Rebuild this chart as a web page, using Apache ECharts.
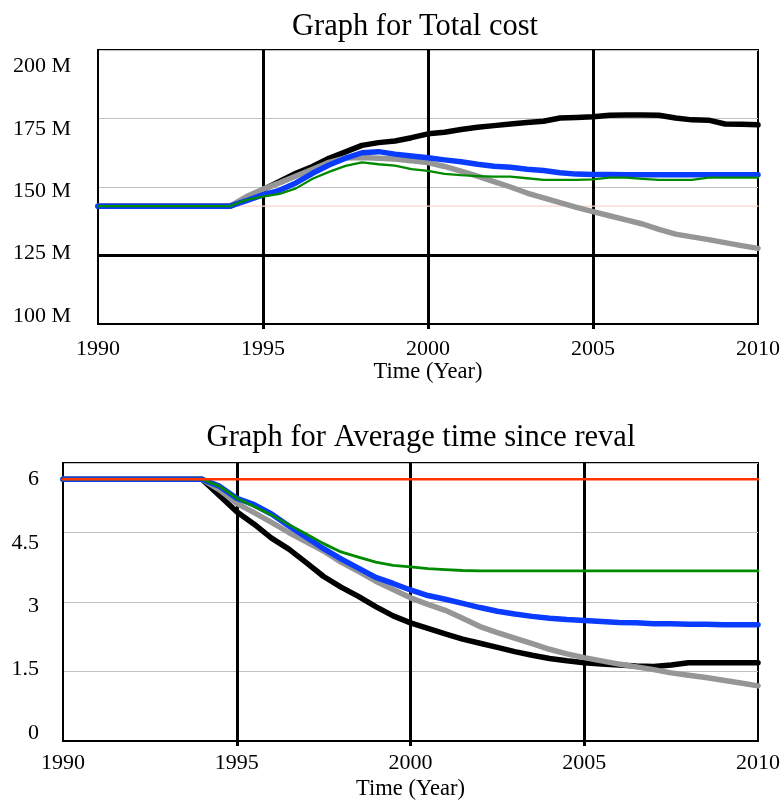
<!DOCTYPE html>
<html><head><meta charset="utf-8">
<script src="https://cdn.jsdelivr.net/npm/echarts@6/dist/echarts.min.js"></script>
<style>html,body{margin:0;padding:0;background:#fff}#c{width:784px;height:804px}</style>
</head><body><div id="c"></div>
<script>
// ---- data ----
const years = [1990, 1994, 1994.5, 1995, 1995.5, 1996, 1996.5, 1997, 1997.5, 1998, 1998.5, 1999, 1999.5,
  2000, 2000.5, 2001, 2001.5, 2002, 2002.5, 2003, 2003.5, 2004, 2004.5, 2005, 2005.5, 2006, 2006.5,
  2007, 2007.5, 2008, 2008.5, 2009, 2009.5, 2010];

// Total cost (millions)
const costBlack = [143, 143, 145.5, 149, 152, 155, 157.5, 160.5, 162.8, 165.2, 166.2, 166.8, 168,
  169.4, 170, 171, 171.8, 172.4, 173, 173.5, 174, 175.2, 175.4, 175.6, 176.2, 176.3, 176.3,
  176.2, 175.2, 174.5, 174.4, 173, 172.9, 172.7];
const costGray = [143, 143, 146.5, 149.2, 151.5, 154, 156.5, 159, 160.6, 160.8, 160.5, 160.2, 159.6,
  158.9, 157.5, 155.8, 154, 152, 150, 147.8, 146, 144.3, 142.6, 141, 139.5, 138, 136.5,
  134.5, 132.8, 131.8, 130.8, 129.7, 128.6, 127.6];
const costBlue = [143, 143, 145, 147.1, 148.8, 151.5, 155, 158, 160.5, 162.5, 162.9, 162, 161.3,
  160.7, 159.9, 159.2, 158.3, 157.6, 157.2, 156.5, 156, 155.2, 154.7, 154.6, 154.6, 154.5, 154.5,
  154.5, 154.5, 154.5, 154.5, 154.5, 154.5, 154.5];
const costGreen = [143, 143, 145.3, 146.5, 147.5, 149.5, 153, 155.5, 157.7, 159, 158.3, 157.8, 156.5,
  155.9, 154.8, 154.3, 154, 153.8, 153.8, 153.2, 152.6, 152.6, 152.6, 152.8, 153.4, 153.4, 153,
  152.6, 152.6, 152.6, 153.4, 153.4, 153.4, 153.4];
const costRed = [143, 143, 143, 143, 143, 143, 143, 143, 143, 143, 143, 143, 143,
  143, 143, 143, 143, 143, 143, 143, 143, 143, 143, 143, 143, 143, 143,
  143, 143, 143, 143, 143, 143, 143];

// Average time since reval
const avgBlack = [5.65, 5.65, 5.3, 4.95, 4.68, 4.38, 4.14, 3.85, 3.55, 3.32, 3.12, 2.9, 2.7,
  2.55, 2.43, 2.31, 2.2, 2.11, 2.02, 1.93, 1.85, 1.78, 1.73, 1.69, 1.66, 1.64, 1.62,
  1.61, 1.64, 1.69, 1.69, 1.69, 1.69, 1.69];
const avgGray = [5.65, 5.65, 5.42, 5.13, 4.93, 4.72, 4.5, 4.3, 4.1, 3.86, 3.66, 3.45, 3.27,
  3.09, 2.95, 2.82, 2.65, 2.47, 2.34, 2.22, 2.1, 1.98, 1.88, 1.8, 1.73, 1.66, 1.6,
  1.54, 1.47, 1.42, 1.37, 1.31, 1.25, 1.19];
const avgBlue = [5.65, 5.65, 5.5, 5.24, 5.1, 4.9, 4.64, 4.4, 4.15, 3.93, 3.73, 3.53, 3.4,
  3.26, 3.14, 3.06, 2.97, 2.88, 2.8, 2.74, 2.69, 2.65, 2.62, 2.6, 2.58, 2.56, 2.55,
  2.53, 2.53, 2.52, 2.52, 2.51, 2.51, 2.51];
const avgGreen = [5.65, 5.65, 5.5, 5.24, 5.06, 4.88, 4.67, 4.47, 4.26, 4.08, 3.97, 3.86, 3.79,
  3.76, 3.72, 3.7, 3.68, 3.67, 3.67, 3.67, 3.67, 3.67, 3.67, 3.67, 3.67, 3.67, 3.67,
  3.67, 3.67, 3.67, 3.67, 3.67, 3.67, 3.67];
const avgRed = [5.65, 5.65, 5.65, 5.65, 5.65, 5.65, 5.65, 5.65, 5.65, 5.65, 5.65, 5.65, 5.65,
  5.65, 5.65, 5.65, 5.65, 5.65, 5.65, 5.65, 5.65, 5.65, 5.65, 5.65, 5.65, 5.65, 5.65,
  5.65, 5.65, 5.65, 5.65, 5.65, 5.65, 5.65];

const xTicks = [1990, 1995, 2000, 2005, 2010];
const costTickLabels = ['100 M', '125 M', '150 M', '175 M', '200 M'];
const avgTickLabels = ['0', '1.5', '3', '4.5', '6'];
const titles = ['Graph for Total cost', 'Graph for Average time since reval'];
const xName = 'Time (Year)';

// ---- chart ----
const FONT = 'Liberation Serif, Times New Roman, serif';
const pts = arr => years.map((y, i) => [y, arr[i]]);

// Vensim-style label placement: labels spread evenly, inset from the plot edges
function labelVals(min, max, n) {
  const lo = min + 0.029 * (max - min), hi = max - 0.06 * (max - min);
  const out = [];
  for (let i = 0; i < n; i++) out.push(lo + (hi - lo) * i / (n - 1));
  return out;
}
function yAxis(gi, min, max, interval, labels, margin) {
  const vals = labelVals(min, max, labels.length);
  return {
    type: 'value', gridIndex: gi, min: min, max: max, interval: interval,
    axisLine: { show: true, lineStyle: { color: '#000', width: 2 } },
    axisTick: { show: false },
    splitLine: { show: true, lineStyle: { color: '#c0c0c0', width: 1 } },
    axisLabel: {
      customValues: vals, margin: margin, color: '#000', fontSize: 22, fontFamily: FONT,
      formatter: v => {
        let best = 0, d = Infinity;
        vals.forEach((p, i) => { if (Math.abs(p - v) < d) { d = Math.abs(p - v); best = i; } });
        return labels[best];
      }
    }
  };
}
function xAxis(gi, labelMargin) {
  return {
    type: 'value', gridIndex: gi, min: xTicks[0], max: xTicks[xTicks.length - 1], interval: 5,
    name: xName, nameLocation: 'middle', nameGap: 37,
    nameTextStyle: { color: '#000', fontSize: 22.5, fontFamily: FONT },
    axisLine: { show: true, lineStyle: { color: '#000', width: 2 } },
    axisTick: { show: true, customValues: xTicks.slice(1, -1), length: 5, lineStyle: { color: '#000', width: 3 } },
    splitLine: { show: true, lineStyle: { color: '#000', width: 3 } },
    axisLabel: { margin: labelMargin, color: '#000', fontSize: 22, fontFamily: FONT, formatter: v => String(v) }
  };
}
function line(name, gi, arr, color, width, z, extra) {
  return Object.assign({
    name: name, type: 'line', xAxisIndex: gi, yAxisIndex: gi, data: pts(arr),
    showSymbol: false, symbol: 'none', z: z, silent: true, animation: false,
    lineStyle: { color: color, width: width, cap: 'round', join: 'round' }
  }, extra || {});
}

const chart = echarts.init(document.getElementById('c'), null, { renderer: 'canvas' });
chart.setOption({
  backgroundColor: '#fff',
  animation: false,
  title: [
    { text: titles[0], left: 410, top: 6, textAlign: 'center',
      textStyle: { fontFamily: FONT, fontSize: 30.5, fontWeight: 'normal', color: '#000' } },
    { text: titles[1], left: 416, top: 417, textAlign: 'center',
      textStyle: { fontFamily: FONT, fontSize: 30.5, fontWeight: 'normal', color: '#000' } }
  ],
  grid: [
    { left: 98, top: 50, width: 660, height: 274, show: true, borderColor: '#000', borderWidth: 2, backgroundColor: 'transparent' },
    { left: 63, top: 463, width: 695, height: 278, show: true, borderColor: '#000', borderWidth: 2, backgroundColor: 'transparent' }
  ],
  xAxis: [xAxis(0, 14), xAxis(1, 11)],
  yAxis: [yAxis(0, 100, 200, 25, costTickLabels, 27), yAxis(1, 0, 6, 1.5, avgTickLabels, 24)],
  series: [
    line('Red', 0, costRed, '#ffd4cc', 1.2, 2, {
      markLine: { silent: true, symbol: 'none', label: { show: false },
        lineStyle: { color: '#000', width: 3, type: 'solid' }, data: [{ yAxis: 125 }] }
    }),
    line('Black', 0, costBlack, '#000000', 5.5, 3),
    line('Gray', 0, costGray, '#969696', 5.5, 4),
    line('Blue', 0, costBlue, '#0a3cff', 5.5, 5),
    line('Green', 0, costGreen, '#008a00', 2.3, 6),
    line('Black', 1, avgBlack, '#000000', 5.5, 3),
    line('Gray', 1, avgGray, '#969696', 5.5, 4),
    line('Blue', 1, avgBlue, '#0a3cff', 5.5, 5),
    line('Green', 1, avgGreen, '#008a00', 2.8, 6),
    line('Red', 1, avgRed, '#ff3300', 2.5, 7)
  ]
});
</script>
</body></html>
